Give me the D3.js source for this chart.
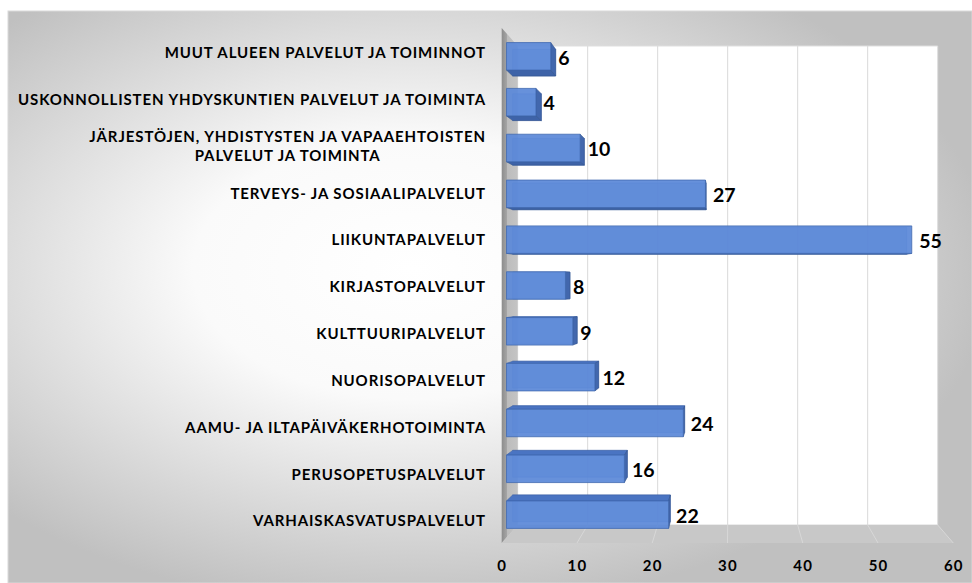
<!DOCTYPE html>
<html>
<head>
<meta charset="utf-8">
<script src="https://cdn.jsdelivr.net/npm/d3@7"></script>
<style>
  body { margin: 0; background: #fff; }
  text { font-family: Lato, "Open Sans", sans-serif; font-weight: 700; fill: #000; }
</style>
</head>
<body>
<div id="chart"></div>
<script>
// categories top to bottom, as shown
var categories = [
  "MUUT ALUEEN PALVELUT JA TOIMINNOT",
  "USKONNOLLISTEN YHDYSKUNTIEN PALVELUT JA TOIMINTA",
  "JÄRJESTÖJEN, YHDISTYSTEN JA VAPAAEHTOISTEN\nPALVELUT JA TOIMINTA",
  "TERVEYS- JA SOSIAALIPALVELUT",
  "LIIKUNTAPALVELUT",
  "KIRJASTOPALVELUT",
  "KULTTUURIPALVELUT",
  "NUORISOPALVELUT",
  "AAMU- JA ILTAPÄIVÄKERHOTOIMINTA",
  "PERUSOPETUSPALVELUT",
  "VARHAISKASVATUSPALVELUT"
];
var values = [6, 4, 10, 27, 55, 8, 9, 12, 24, 16, 22];
var xTicks = [0, 10, 20, 30, 40, 50, 60];

var width = 972, height = 583;

// front plane scales (depth k = 1), the rest is projected in perspective
var x = d3.scaleLinear().domain([0, 60]).range([501.7, 953.3]);
var y = d3.scaleBand().domain(categories).range([28, 543])
  .paddingInner(0.4).paddingOuter(0.2);

var vx = 730, vy = 285;      // vanishing point
var kBack = 0.93;            // back wall depth
var kBarF = 0.979, kBarB = 0.952;  // bar front / back depth

function proj(px, py, k) {
  return [vx + (px - vx) * k, vy + (py - vy) * k];
}
function poly(pts) {
  return pts.map(function(p) { return proj(p[0], p[1], p[2]).join(","); }).join(" ");
}

var svg = d3.select("#chart").append("svg")
  .attr("width", width)
  .attr("height", height);

var defs = svg.append("defs");
var bg = defs.append("radialGradient").attr("id", "bg")
  .attr("cx", 0.42).attr("cy", 0.45).attr("r", 0.6);
bg.append("stop").attr("offset", 0).attr("stop-color", "#ffffff");
bg.append("stop").attr("offset", 0.38).attr("stop-color", "#fafafa");
bg.append("stop").attr("offset", 1).attr("stop-color", "#c0c0c0");

var sideG = defs.append("linearGradient").attr("id", "side")
  .attr("x1", 0).attr("x2", 1).attr("y1", 0).attr("y2", 0);
sideG.append("stop").attr("offset", 0).attr("stop-color", "#8c8c8c");
sideG.append("stop").attr("offset", 0.3).attr("stop-color", "#a3a3a3");
sideG.append("stop").attr("offset", 0.35).attr("stop-color", "#bcbcbc");
sideG.append("stop").attr("offset", 1).attr("stop-color", "#c4c4c4");

// chart area
svg.append("rect")
  .attr("x", 8).attr("y", 11)
  .attr("width", width - 8).attr("height", height - 11)
  .attr("fill", "url(#bg)")
  .attr("stroke", "#d9d9d9");

var x0 = x(0), x60 = x(60), yTop = 28, yBot = 543;

// back wall
svg.append("polygon")
  .attr("points", poly([[x0, yTop, kBack], [x60, yTop, kBack], [x60, yBot, kBack], [x0, yBot, kBack]]))
  .attr("fill", "#fff")
  .attr("stroke", "#dedede");

// side wall
svg.append("polygon")
  .attr("points", poly([[x0, yTop, 1], [x0, yTop, kBack], [x0, yBot, kBack], [x0, yBot, 1]]))
  .attr("fill", "url(#side)");

// floor
svg.append("polygon")
  .attr("points", poly([[x0, yBot, 1], [x60, yBot, 1], [x60, yBot, kBack], [x0, yBot, kBack]]))
  .attr("fill", "#c8c8c8");

// gridlines on back wall and floor
var grid = svg.append("g").attr("class", "grid");
grid.selectAll("line.wall")
  .data(xTicks.filter(function(t) { return t > 0 && t < 60; }))
  .enter().append("line")
  .attr("class", "wall")
  .attr("x1", function(d) { return proj(x(d), yTop, kBack)[0]; })
  .attr("y1", function(d) { return proj(x(d), yTop, kBack)[1]; })
  .attr("x2", function(d) { return proj(x(d), yBot, kBack)[0]; })
  .attr("y2", function(d) { return proj(x(d), yBot, kBack)[1]; })
  .attr("stroke", "#d9d9d9");
grid.selectAll("line.floor")
  .data(xTicks.filter(function(t) { return t > 0; }))
  .enter().append("line")
  .attr("class", "floor")
  .attr("x1", function(d) { return proj(x(d), yBot, 1)[0]; })
  .attr("y1", function(d) { return proj(x(d), yBot, 1)[1]; })
  .attr("x2", function(d) { return proj(x(d), yBot, kBack)[0]; })
  .attr("y2", function(d) { return proj(x(d), yBot, kBack)[1]; })
  .attr("stroke", "#d8d8d8");

// 3d bars
var bars = svg.append("g").attr("class", "bars")
  .selectAll("g")
  .data(categories.map(function(c, i) { return { name: c, value: values[i] }; }))
  .enter().append("g");

bars.each(function(d) {
  var g = d3.select(this);
  var a = x(0), b = x(d.value);
  var t = y(d.name), u = y(d.name) + y.bandwidth();
  var F = kBarF, B = kBarB;

  // back face, seen through the bar
  g.append("polygon")
    .attr("points", poly([[a, t, B], [b, t, B], [b, u, B], [a, u, B]]))
    .attr("fill", "#4f7bc9").attr("fill-opacity", 0.5)
    .attr("stroke", "#3f65ab").attr("stroke-opacity", 0.5);

  // top or bottom face
  if (t > vy) {
    g.append("polygon")
      .attr("points", poly([[a, t, F], [b, t, F], [b, t, B], [a, t, B]]))
      .attr("fill", "#4a74c2").attr("stroke", "#3d62a6").attr("stroke-width", 0.6);
  }
  if (u < vy) {
    g.append("polygon")
      .attr("points", poly([[a, u, F], [b, u, F], [b, u, B], [a, u, B]]))
      .attr("fill", "#3e63a8").attr("stroke", "#34558f").attr("stroke-width", 0.6);
  }
  // right face
  if (b < vx) {
    g.append("polygon")
      .attr("points", poly([[b, t, F], [b, t, B], [b, u, B], [b, u, F]]))
      .attr("fill", "#4267ad").attr("stroke", "#34558f").attr("stroke-width", 0.6);
  }
  // front face
  g.append("polygon")
    .attr("points", poly([[a, t, F], [b, t, F], [b, u, F], [a, u, F]]))
    .attr("fill", "#5b89d8").attr("fill-opacity", 0.93)
    .attr("stroke", "#4169b0").attr("stroke-width", 0.8);
});

// value labels
svg.append("g").attr("class", "labels")
  .selectAll("text")
  .data(categories.map(function(c, i) { return { name: c, value: values[i] }; }))
  .enter().append("text")
  .attr("x", function(d) { return proj(x(d.value), 0, kBarF)[0] + 7.5; })
  .attr("y", function(d) { return proj(0, y(d.name) + y.bandwidth() / 2, kBarF)[1] + 1.5; })
  .attr("dy", "0.35em")
  .style("font-size", "19.5px")
  .text(function(d) { return d.value; });

// x axis labels along the front edge of the floor
var xAxis = svg.append("g")
  .attr("transform", "translate(0,566)")
  .call(d3.axisBottom(x).tickValues(xTicks).tickSize(0).tickPadding(0));
xAxis.select(".domain").remove();
xAxis.selectAll("text")
  .attr("y", 0).attr("dy", "0.35em")
  .style("font-size", "15px")
  .style("letter-spacing", "1.2px")
  .style("font-family", "Lato, 'Open Sans', sans-serif");

// category labels
var yAxis = svg.append("g")
  .attr("transform", "translate(486,2)")
  .call(d3.axisLeft(y).tickSize(0).tickPadding(0));
yAxis.select(".domain").remove();
yAxis.selectAll("text")
  .style("font-size", "15px")
  .style("letter-spacing", "0.9px")
  .style("font-family", "Lato, 'Open Sans', sans-serif")
  .each(function(d) {
    var lines = d.split("\n");
    if (lines.length < 2) return;
    var el = d3.select(this).text(null);
    var spans = lines.map(function(l, i) {
      return el.append("tspan").attr("x", 0).attr("dy", i == 0 ? "-0.33em" : "1.25em").text(l);
    });
    var w = d3.max(spans, function(s) { return s.node().getComputedTextLength(); });
    el.attr("text-anchor", "middle");
    spans.forEach(function(s) { s.attr("x", -w / 2); });
  });
</script>
</body>
</html>
